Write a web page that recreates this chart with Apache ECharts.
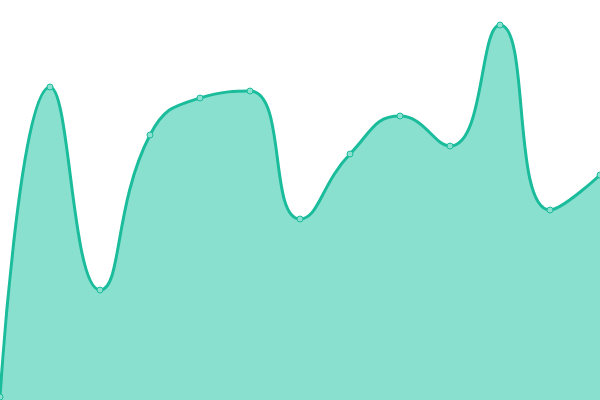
<!DOCTYPE html>
<html><head><meta charset="utf-8">
<script src="https://cdn.jsdelivr.net/npm/echarts@6/dist/echarts.min.js"></script>
<style>html,body{margin:0;padding:0;background:#fff}#c{width:600px;height:400px}</style>
</head><body><div id="c"></div>
<script>
const categories = ['1','2','3','4','5','6','7','8','9','10','11','12','13'];
const values = [3, 313, 110, 265, 302, 309, 181, 246, 284, 254, 375, 190, 225];
const chart = echarts.init(document.getElementById('c'));
chart.setOption({
  animation: false,
  grid: {left: 0, right: 0, top: 0, bottom: 0},
  xAxis: {type: 'category', data: categories, boundaryGap: false, show: false},
  yAxis: {type: 'value', min: 0, max: 400, show: false},
  series: [{
    type: 'line', data: values, smooth: true,
    symbol: 'circle', symbolSize: 6,
    lineStyle: {color: '#1abc9c', width: 3},
    itemStyle: {color: '#8ce0cf', borderColor: '#1abc9c', borderWidth: 1},
    areaStyle: {color: '#8ae0cf', opacity: 1}
  }]
});
</script></body></html>
